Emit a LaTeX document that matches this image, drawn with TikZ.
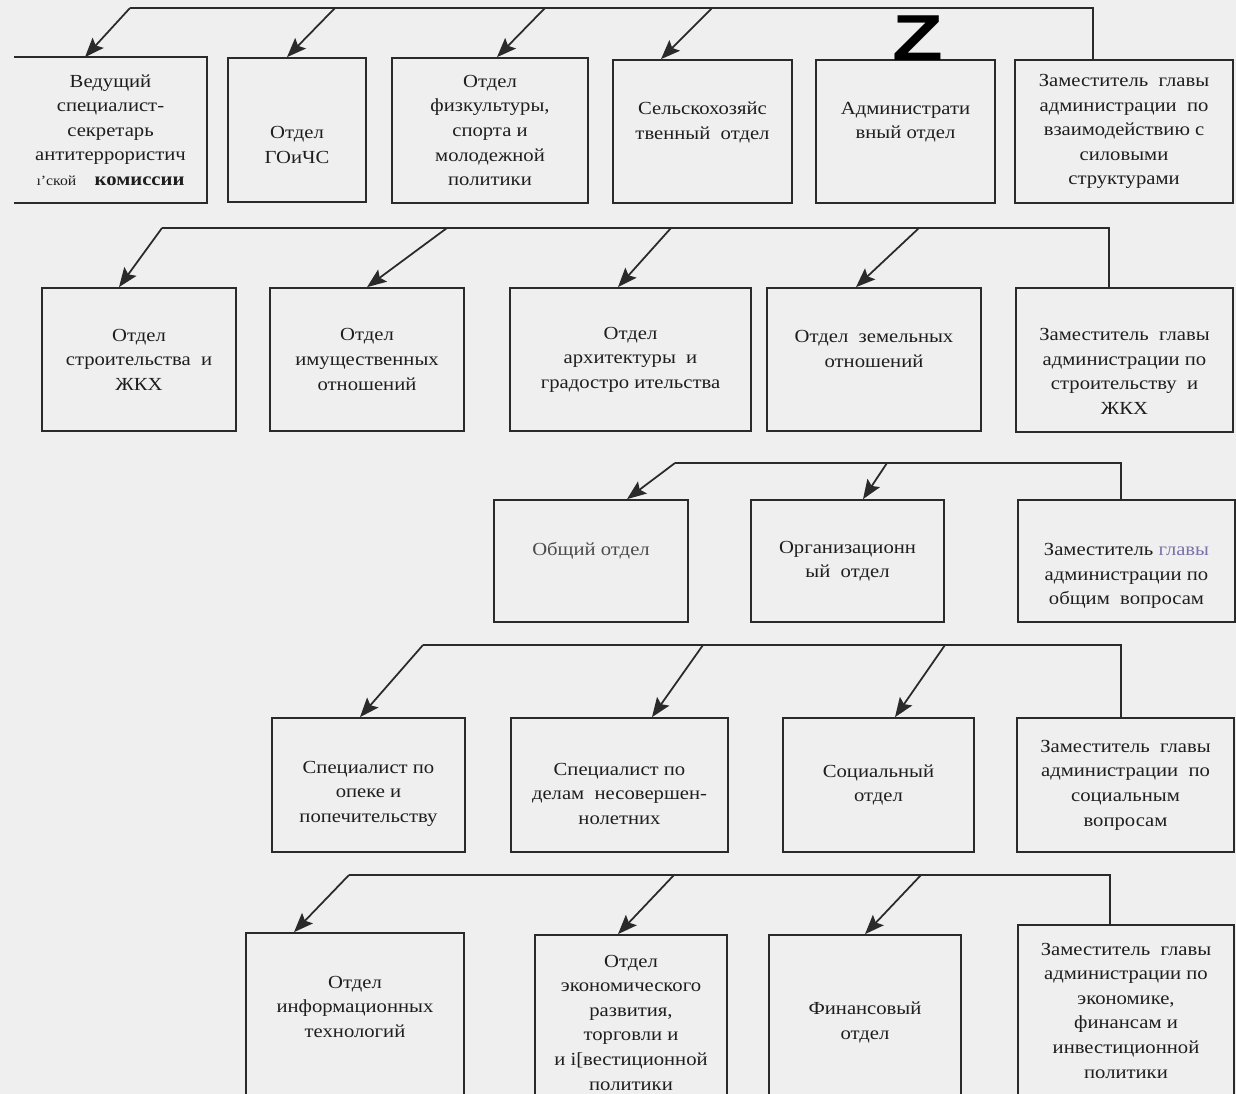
\documentclass[tikz,border=0pt]{standalone}
\usepackage{fontspec}
\usepackage{graphicx}
\setmainfont{Liberation Serif}[FakeStretch=1.12]
\setsansfont{Liberation Sans}
\usepackage{xcolor}
\usepackage{tikz}
\usetikzlibrary{arrows.meta, positioning, calc}
\definecolor{paper}{HTML}{EFEFEF}
\definecolor{ink}{HTML}{1E1E1E}
\definecolor{rule}{HTML}{2A2A2A}
\definecolor{faded}{HTML}{7A72A8}
\tikzstyle{unit} = [rectangle, inner sep=0pt, align=center, text centered, draw=rule, line width=1pt, text=ink, font=\fontsize{10.5}{14}\selectfont]
\tikzstyle{edge} = [draw=rule, line width=1pt]
\tikzstyle{arrow} = [draw=rule, line width=1pt, ->, >={Stealth[length=11pt, width=8.5pt, inset=2pt]}]

\begin{document}
\begin{tikzpicture}[x=0.02cm, y=-0.02cm]
\useasboundingbox (0,0) rectangle (1236,1094);
\fill[paper] (0,0) rectangle (1236,1094);
\clip (0,0) rectangle (1236,1094);

\node (secretary) [unit, draw=none, minimum width=3.82cm, minimum height=2.88cm] at (110.5,130) {Ведущий\\специалист-\\секретарь\\антитеррористич\\{\fontsize{8}{14}\selectfont ı'ской}\quad\textbf{комиссии}};
\node (gochs) [unit, minimum width=2.76cm, minimum height=2.88cm] at (297,130) {\mbox{}\\[10pt]Отдел\\ГОиЧС};
\node (sport) [unit, minimum width=3.92cm, minimum height=2.9cm] at (490,130.5) {Отдел\\физкультуры,\\спорта и\\молодежной\\политики};
\node (agro) [unit, minimum width=3.58cm, minimum height=2.86cm] at (702.5,131.5) {Сельскохозяйс\\твенный\ \ отдел\\[-1.6pt]\mbox{}};
\node (admin) [unit, minimum width=3.58cm, minimum height=2.86cm] at (905.5,131.5) {Администрати\\вный отдел\\[-1.6pt]\mbox{}};
\node (deputysec) [unit, minimum width=4.36cm, minimum height=2.86cm] at (1124,131.5) {Заместитель\ \ главы\\администрации\ \ по\\взаимодействию с\\силовыми\\структурами};

\node (build) [unit, minimum width=3.88cm, minimum height=2.86cm] at (139,359.5) {Отдел\\строительства\ \ и\\ЖКХ};
\node (property) [unit, minimum width=3.88cm, minimum height=2.86cm] at (367,359.5) {Отдел\\имущественных\\отношений};
\node (arch) [unit, minimum width=4.82cm, minimum height=2.86cm] at (630.5,359.5) {Отдел\\архитектуры\ \ и\\градостро\ ительства};
\node (land) [unit, minimum width=4.28cm, minimum height=2.86cm] at (874,359.5) {Отдел\ \ земельных\\отношений\\[-1.6pt]\mbox{}};
\node (deputybuild) [unit, minimum width=4.34cm, minimum height=2.88cm] at (1124.5,360) {\mbox{}\\[6pt]Заместитель\ \ главы\\администрации по\\строительству\ \ и\\ЖКХ};

\node (general) [unit, minimum width=3.88cm, minimum height=2.44cm] at (591,561) {\textcolor{ink!80}{Общий отдел}\\\mbox{}};
\node (orgdept) [unit, minimum width=3.86cm, minimum height=2.44cm] at (847.5,561) {Организационн\\ый\ \ отдел};
\node (deputygen) [unit, minimum width=4.34cm, minimum height=2.44cm] at (1126.5,561) {\mbox{}\\[10pt]Заместитель \textcolor{faded}{главы}\\администрации по\\общим\ \ вопросам};

\node (guard) [unit, minimum width=3.86cm, minimum height=2.68cm] at (368.5,785) {\mbox{}\\[3pt]Специалист по\\опеке и\\попечительству};
\node (minors) [unit, minimum width=4.34cm, minimum height=2.68cm] at (619.5,785) {\mbox{}\\[3pt]Специалист по\\делам\ \ несовершен-\\нолетних};
\node (social) [unit, minimum width=3.82cm, minimum height=2.68cm] at (878.5,785) {Социальный\\отдел};
\node (deputysoc) [unit, minimum width=4.34cm, minimum height=2.68cm] at (1125.5,785) {Заместитель\ \ главы\\администрации\ \ по\\социальным\\вопросам};

\node (it) [unit, minimum width=4.36cm, minimum height=3.54cm] at (355,1021.5) {Отдел\\информационных\\технологий\\[3pt]\mbox{}};
\node (econ) [unit, minimum width=3.84cm, minimum height=3.5cm] at (631,1022.5) {Отдел\\экономического\\развития,\\торговли и\\и i[вестиционной\\политики};
\node (finance) [unit, minimum width=3.84cm, minimum height=3.5cm] at (865,1022.5) {Финансовый\\отдел};
\node (deputyecon) [unit, minimum width=4.32cm, minimum height=3.7cm] at (1126,1017.5) {Заместитель\ \ главы\\администрации по\\экономике,\\финансам и\\инвестиционной\\политики\\[-6pt]\mbox{}};

\node (zmark) [inner sep=0pt, font=\sffamily\bfseries\fontsize{37}{37}\selectfont, text=black] at (918,38) {\scalebox{1.28}[1]{Z}};

\draw [edge] (secretary.north west) -- (secretary.north east) -- (secretary.south east) -- (secretary.south west);

\coordinate (busa1) at (130,8);
\coordinate (busa2) at (335,8);
\coordinate (busa3) at (545,8);
\coordinate (busa4) at (712,8);
\coordinate (busa5) at (1093,8);
\draw [edge] (busa1) -- (busa5) -- ([xshift=-0.62cm]deputysec.north);
\draw [arrow] (busa1) -- ([xshift=-0.51cm]secretary.north);
\draw [arrow] (busa2) -- ([xshift=-0.2cm]gochs.north);
\draw [arrow] (busa3) -- ([xshift=0.14cm]sport.north);
\draw [arrow] (busa4) -- ([xshift=-0.83cm]agro.north);

\coordinate (busb1) at (162,228);
\coordinate (busb2) at (447,228);
\coordinate (busb3) at (671,228);
\coordinate (busb4) at (919,228);
\coordinate (busb5) at (1109,228);
\draw [edge] (busb1) -- (busb5) -- ([xshift=-0.31cm]deputybuild.north);
\draw [arrow] (busb1) -- ([xshift=-0.4cm]build.north);
\draw [arrow] (busb2) -- (property.north);
\draw [arrow] (busb3) -- ([xshift=-0.25cm]arch.north);
\draw [arrow] (busb4) -- ([xshift=-0.36cm]land.north);

\coordinate (busc1) at (675,463);
\coordinate (busc2) at (887,463);
\coordinate (busc3) at (1121,463);
\draw [edge] (busc1) -- (busc3) -- ([xshift=-0.11cm]deputygen.north);
\draw [arrow] (busc1) -- ([xshift=0.72cm]general.north);
\draw [arrow] (busc2) -- ([xshift=0.31cm]orgdept.north);

\coordinate (busd1) at (423,645);
\coordinate (busd2) at (703,645);
\coordinate (busd3) at (945,645);
\coordinate (busd4) at (1121,645);
\draw [edge] (busd1) -- (busd4) -- ([xshift=-0.09cm]deputysoc.north);
\draw [arrow] (busd1) -- ([xshift=-0.17cm]guard.north);
\draw [arrow] (busd2) -- ([xshift=0.65cm]minors.north);
\draw [arrow] (busd3) -- ([xshift=0.33cm]social.north);

\coordinate (buse1) at (349,875);
\coordinate (buse2) at (674,875);
\coordinate (buse3) at (921,875);
\coordinate (buse4) at (1110,875);
\draw [edge] (buse1) -- (buse4) -- ([xshift=-0.32cm]deputyecon.north);
\draw [arrow] (buse1) -- ([xshift=-1.22cm]it.north);
\draw [arrow] (buse2) -- ([xshift=-0.26cm]econ.north);
\draw [arrow] (buse3) -- (finance.north);
\end{tikzpicture}
\end{document}
